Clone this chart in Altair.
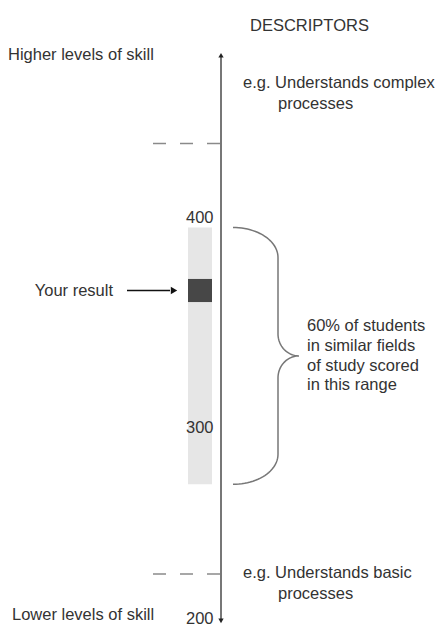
import altair as alt
import numpy as np
import pandas as pd

# ---------------- data ----------------
axis_scores = [200, 300, 400]            # labelled points of the scale
axis_top_score = 477                     # top end of the skill scale
axis_bottom_score = 198.5                # bottom end of the skill scale
band_high, band_low = 395, 270           # range scored by 60% of students
your_result = 365                        # the student's score
descriptor_levels = [435, 223]           # dashed descriptor levels
top_text = ["Higher levels of skill"]
bottom_text = ["Lower levels of skill"]
header_text = ["DESCRIPTORS"]
result_text = ["Your result"]
brace_lines = ["60% of students", "in similar fields", "of study scored", "in this range"]
desc_complex = ["e.g. Understands complex", "processes"]
desc_basic = ["e.g. Understands basic", "processes"]
desc_complex_scores = [464, 454]
desc_basic_scores = [223.5, 212.5]
header_score = 491
top_text_score = 477
bottom_text_score = 201.8

# ---------------- layout (plot pixels) ----------------
W, H = 427, 617
Y_RANGE = [610, 419, 209]                # pixel positions of 200, 300, 400
AXIS_X = 213
BAND_X0, BAND_X1 = 180, 204
DASH_X0 = 145
BRACE_X0, BRACE_X1, BRACE_TIP = 225, 270, 291
DESC_X, DESC_X2 = 235, 270
LEFT_X, LEFT_X2 = 0, 4
RESULT_TEXT_X = 105
ARROW_X0, ARROW_X1 = 119, 166
BRACE_TEXT_X = 299
HEADER_X = 242
MARKER_HALF = 5.5
LINE_H = 19.7
FONT = "Liberation Sans"
FS = 16.5
TXT = "#333333"

yscale = alt.Scale(domain=axis_scores, range=Y_RANGE, nice=False, zero=False)
yaxis = alt.Axis(values=axis_scores, title=None, grid=False, domain=False, ticks=False,
                 tickSize=0, labelPadding=8, offset=-AXIS_X, labelFont=FONT,
                 labelFontSize=FS, labelColor=TXT, labelAlign="right",
                 labelBaseline="middle", zindex=2)
xscale = alt.Scale(domain=[0, W], range=[0, W], nice=False, zero=False)


def X(f):
    return alt.X(f, type="quantitative", scale=xscale, axis=None)


def Y(f):
    return alt.Y(f, type="quantitative", scale=yscale, axis=yaxis)


# skill axis line
axis_df = pd.DataFrame({"x": [AXIS_X], "y": [axis_bottom_score], "y2": [axis_top_score]})
axis_line = alt.Chart(axis_df).mark_rule(color="#555555", strokeWidth=1.6).encode(
    x=X("x"), y=Y("y"), y2="y2")

heads_df = pd.DataFrame({"x": [AXIS_X, AXIS_X], "y": [axis_top_score, axis_bottom_score],
                         "s": ["triangle-up", "triangle-down"]})
axis_heads = alt.Chart(heads_df).mark_point(filled=True, size=28, color="#222222", opacity=1).encode(
    x=X("x"), y=Y("y"),
    shape=alt.Shape("s:N", scale=alt.Scale(domain=["triangle-up", "triangle-down"],
                                           range=["triangle-up", "triangle-down"]), legend=None))

# dashed descriptor levels
dash_df = pd.DataFrame({"x": [DASH_X0] * 2, "x2": [AXIS_X] * 2, "y": descriptor_levels})
dashes = alt.Chart(dash_df).mark_rule(color="#8a8a8a", strokeWidth=1.6, strokeDash=[13, 14]).encode(
    x=X("x"), x2="x2", y=Y("y"))

# 60% band
band_df = pd.DataFrame({"x": [BAND_X0], "x2": [BAND_X1], "y": [band_low], "y2": [band_high]})
band = alt.Chart(band_df).mark_rect(color="#e6e6e6").encode(x=X("x"), x2="x2", y=Y("y"), y2="y2")

# your result marker
res_df = pd.DataFrame({"x": [BAND_X0], "x2": [BAND_X1],
                       "y": [your_result - MARKER_HALF], "y2": [your_result + MARKER_HALF]})
result = alt.Chart(res_df).mark_rect(color="#474747").encode(x=X("x"), x2="x2", y=Y("y"), y2="y2")

# arrow to result
arr_df = pd.DataFrame({"x": [ARROW_X0], "x2": [ARROW_X1 - 4], "y": [your_result]})
arrow = alt.Chart(arr_df).mark_rule(color="#111111", strokeWidth=1.6).encode(x=X("x"), x2="x2", y=Y("y"))
arrh_df = pd.DataFrame({"x": [ARROW_X1], "y": [your_result]})
arrow_head = alt.Chart(arrh_df).mark_point(shape="triangle-right", filled=True, size=55,
                                           color="#111111", opacity=1).encode(x=X("x"), y=Y("y"))

# brace, built in pixel space around the band and mapped back to scores
yp = np.array(Y_RANGE[::-1], dtype=float)
ys = np.array(axis_scores[::-1], dtype=float)


def to_px(s):
    return float(np.interp(-s, -ys, yp))


def to_score(p):
    return np.interp(p, yp, ys)


top_px, bot_px = to_px(band_high), to_px(band_low)
mid_px = (top_px + bot_px) / 2
ry1, ry2 = 30.0, 22.0
t = np.linspace(0, np.pi / 2, 25)
ax1 = BRACE_X0 + (BRACE_X1 - BRACE_X0) * np.sin(t)
ay1 = top_px + ry1 * (1 - np.cos(t))
ax2 = BRACE_TIP - (BRACE_TIP - BRACE_X1) * np.cos(t)
ay2 = mid_px - ry2 + ry2 * np.sin(t)
ux = np.concatenate([ax1, ax2])
uy = np.concatenate([ay1, ay2])
bx = np.concatenate([ux, ux[::-1][1:]])
by = np.concatenate([uy, (2 * mid_px - uy)[::-1][1:]])
brace_df = pd.DataFrame({"x": bx, "y": to_score(by), "i": np.arange(len(bx))})
brace = alt.Chart(brace_df).mark_line(color="#777777", strokeWidth=1.5).encode(
    x=X("x"), y=Y("y"), order=alt.Order("i:Q"))


# texts
def text_layer(xs, scores, labels, align="left", **kw):
    df = pd.DataFrame({"x": xs, "y": scores, "t": labels})
    return alt.Chart(df).mark_text(align=align, baseline="middle", font=FONT, fontSize=FS,
                                   color=TXT, **kw).encode(x=X("x"), y=Y("y"), text="t:N")


texts = [
    text_layer([HEADER_X], [header_score], header_text),
    text_layer([LEFT_X], [top_text_score], top_text),
    text_layer([LEFT_X2], [bottom_text_score], bottom_text),
    text_layer([RESULT_TEXT_X], [your_result], result_text, align="right"),
    text_layer([DESC_X, DESC_X2], desc_complex_scores, desc_complex),
    text_layer([DESC_X, DESC_X2], desc_basic_scores, desc_basic),
]

first_line_px = mid_px - LINE_H * (len(brace_lines) - 1) / 2
brace_txt_df = pd.DataFrame({"x": [BRACE_TEXT_X], "y": [float(to_score(first_line_px))],
                             "t": [brace_lines]})
brace_text = alt.Chart(brace_txt_df).mark_text(align="left", baseline="middle", font=FONT, fontSize=FS,
                                               color=TXT, lineHeight=LINE_H).encode(
    x=X("x"), y=Y("y"), text="t")

chart = alt.layer(band, result, dashes, axis_line, axis_heads, arrow, arrow_head, brace,
                  brace_text, *texts).properties(
    width=W, height=H, autosize=alt.AutoSizeParams(type="none"), padding=0,
    background="white"
).configure_view(stroke=None)

chart.save("out.html", embed_options={"renderer": "svg", "actions": False})
